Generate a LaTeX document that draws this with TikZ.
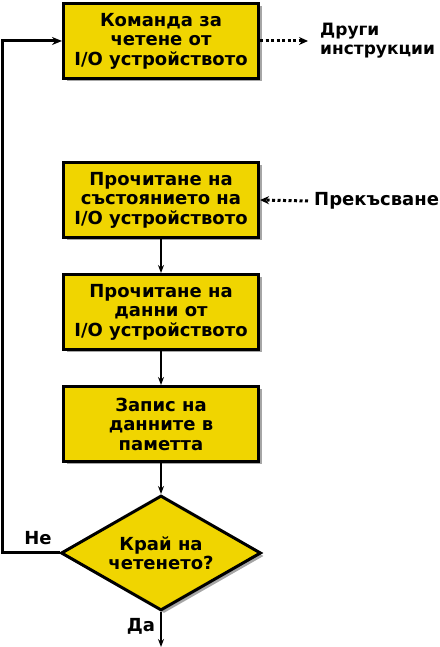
\documentclass[tikz,border=0pt]{standalone}
\usepackage{fontspec}
\setmainfont{DejaVu Sans}
\usetikzlibrary{shapes.geometric,shadows,arrows.meta}
\definecolor{boxyellow}{RGB}{240,213,0}
\begin{document}
\begin{tikzpicture}[x=1pt,y=1pt,
  txt/.style={font=\bfseries\fontsize{18}{19.5}\selectfont},
  stepbox/.style={txt,draw=black,fill=boxyellow,line width=3pt,minimum width=195pt,minimum height=75pt,inner sep=0pt,align=center,
    drop shadow={shadow xshift=3pt,shadow yshift=-3pt,fill=black,opacity=0.35}},
  decision/.style={txt,diamond,draw=black,fill=boxyellow,line width=3pt,minimum width=200pt,minimum height=115pt,aspect=1.73,inner sep=0pt,align=center,
    drop shadow={shadow xshift=3pt,shadow yshift=-3pt,fill=black,opacity=0.35}},
  flow/.style={line width=2pt,-{Stealth[length=8pt,width=6pt]}},
  loop/.style={line width=3pt,-{Stealth[length=10pt,width=8pt]}},
  dots/.style={line width=3pt,dash pattern=on 3pt off 2.5pt,-{Stealth[length=9pt,width=8pt]}},
  lbl/.style={txt,inner sep=0pt}
]
\useasboundingbox (0,0) rectangle (439,647);
\node[stepbox] (b1) at (161,606) {Команда за\\четене от\\I/O устройството};
\node[stepbox] (b2) at (161,447) {Прочитане на\\състоянието на\\I/O устройството};
\node[stepbox] (b3) at (161,335) {Прочитане на\\данни от\\I/O устройството};
\node[stepbox] (b4) at (161,223) {Запис на\\данните в\\паметта};
\node[decision] (d) at (161,94) {Край на\\четенето?};
\node[lbl,anchor=west,align=left,font=\bfseries\fontsize{17}{19}\selectfont] (other) at (320,606) {Други\\инструкции};
\node[lbl,anchor=west] (intr) at (314,446) {Прекъсване};
\node[lbl] (no) at (38,109) {Не};
\node[lbl] (yes) at (141,21) {Да};
\coordinate (loopA) at (2,94);
\coordinate (loopB) at (2,606);
\coordinate (endp) at (161,0);
\coordinate (otherA) at (308,606);
\coordinate (intrA) at (308,446);
\draw[flow] (b2) -- (b3);
\draw[flow] (b3) -- (b4);
\draw[flow] (b4) -- (d);
\draw[flow] (d.south) -- (endp);
\draw[loop] (d.west) -- (loopA) -- (loopB) -- (b1.west);
\draw[dots] (b1.east) -- (otherA);
\draw[dots] (intrA) -- (b2.east);
\end{tikzpicture}
\end{document}
